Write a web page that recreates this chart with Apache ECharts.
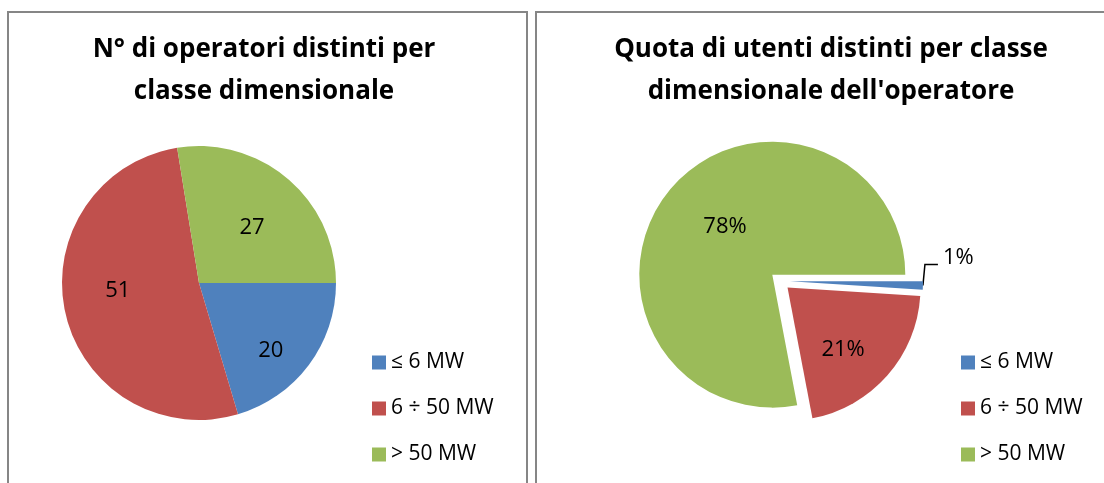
<!DOCTYPE html>
<html>
<head>
<meta charset="utf-8">
<script src="https://cdn.jsdelivr.net/npm/echarts@6/dist/echarts.min.js"></script>
<style>
  html, body { margin: 0; padding: 0; background: #fff; }
  #chart { width: 1104px; height: 483px; }
</style>
</head>
<body>
<div id="chart"></div>
<script>
let classi = ['≤ 6 MW', '6 ÷ 50 MW', '> 50 MW'];
let operatori = [20, 51, 27];
let quotaUtenti = [1, 21, 78];   // percent
let colori = ['#4F81BD', '#C0504D', '#9BBB59'];

// small nudges so data labels sit where Excel put them
let offsetSinistra = [[0, 14], [6, -12], [-5, 13]];
let offsetDestra = [[0, 0], [-4, 10], [14, 3]];

let font = '"Open Sans", Lato, sans-serif';

function makeData(values, selected) {
    return values.map(function (v, i) {
        return {
            name: classi[i],
            value: v,
            selected: selected ? selected[i] : false,
            itemStyle: { color: colori[i] }
        };
    });
}

window.onload = function () {
    let myChart = echarts.init(document.getElementById('chart'));

    let titleStyle = {
        fontFamily: font, fontWeight: 'bold', fontSize: 26,
        lineHeight: 42, color: '#000'
    };
    let legendBase = {
        orient: 'vertical', top: 352, itemWidth: 14, itemHeight: 14,
        itemGap: 25, icon: 'rect', selectedMode: false, padding: 0,
        textStyle: { fontFamily: font, fontSize: 21, lineHeight: 20, color: '#000' },
        data: classi
    };
    let labelStyle = { fontFamily: font, fontSize: 22, color: '#000' };

    let option = {
        animation: false,
        textStyle: { fontFamily: font },
        title: [
            { text: 'N° di operatori distinti per\nclasse dimensionale', left: 264, top: 29,
              textAlign: 'center', padding: 0, textStyle: titleStyle },
            { text: "Quota di utenti distinti per classe\ndimensionale dell'operatore", left: 831, top: 29,
              textAlign: 'center', padding: 0, textStyle: titleStyle }
        ],
        legend: [
            Object.assign({ left: 372 }, legendBase),
            Object.assign({ left: 961 }, legendBase)
        ],
        graphic: [
            { type: 'rect', shape: { x: 8, y: 12, width: 519, height: 500 },
              style: { fill: 'none', stroke: '#868686', lineWidth: 2 } },
            { type: 'rect', shape: { x: 536, y: 12, width: 600, height: 500 },
              style: { fill: 'none', stroke: '#868686', lineWidth: 2 } }
        ],
        series: [
            {
                type: 'pie', center: [199, 283], radius: 137,
                startAngle: 0, clockwise: true,
                label: { show: false }, labelLine: { show: false },
                emphasis: { disabled: true },
                data: makeData(operatori)
            },
            {
                type: 'pie', center: [780, 281], radius: 133,
                startAngle: 0, clockwise: true,
                selectedMode: 'multiple', selectedOffset: 10,
                emphasis: { disabled: true },
                label: { show: false },
                labelLine: { show: false },
                data: makeData(quotaUtenti, [true, true, true]).map(function (d, i) {
                    if (i === 0) {
                        d.label = Object.assign({ show: true, position: 'outside', formatter: '{c}%' }, labelStyle);
                        d.labelLine = { show: true, length: 4, length2: 14,
                                        lineStyle: { color: '#000', width: 1.5 } };
                    }
                    return d;
                }),
                labelLayout: function (p) {
                    let pts = p.labelLinePoints;
                    if (!pts) return {};
                    let s = pts[0];
                    return {
                        dx: -3, dy: -28,
                        labelLinePoints: [s, [s[0] + 2, s[1] - 21], [s[0] + 15, s[1] - 21]]
                    };
                }
            },
            // label layers (transparent sectors, labels only)
            {
                type: 'pie', center: [199, 283], radius: [36, 137],
                startAngle: 0, clockwise: true, silent: true,
                itemStyle: { color: 'rgba(0,0,0,0)' },
                label: Object.assign({ show: true, position: 'inside', formatter: '{c}' }, labelStyle),
                emphasis: { disabled: true },
                data: operatori.map(function (v, i) {
                    return { name: classi[i], value: v, label: { offset: offsetSinistra[i] } };
                })
            },
            {
                type: 'pie', center: [780, 281], radius: [20, 133],
                startAngle: 0, clockwise: true, silent: true,
                selectedMode: 'multiple', selectedOffset: 10,
                itemStyle: { color: 'rgba(0,0,0,0)' },
                label: Object.assign({ show: true, position: 'inside', formatter: '{c}%' }, labelStyle),
                emphasis: { disabled: true },
                data: quotaUtenti.map(function (v, i) {
                    return { name: classi[i], value: v, selected: true,
                             label: { show: i > 0, offset: offsetDestra[i] },
                             select: { label: { show: i > 0, offset: offsetDestra[i] } } };
                })
            }
        ]
    };
    myChart.setOption(option);
};
</script>
</body>
</html>
